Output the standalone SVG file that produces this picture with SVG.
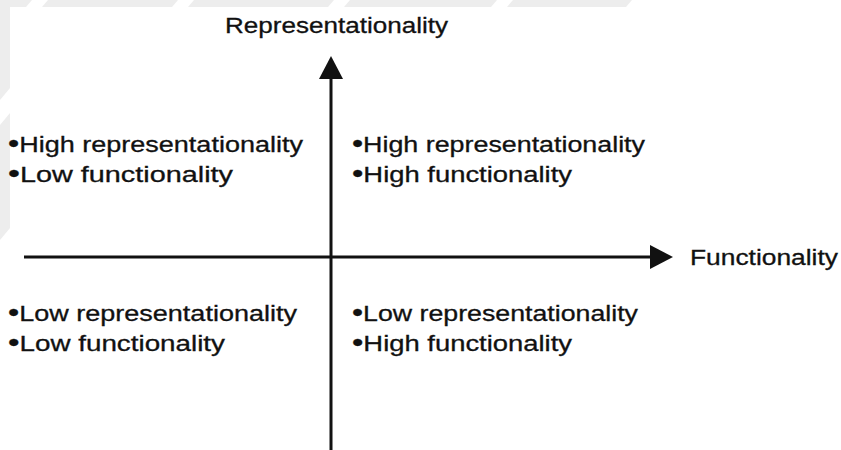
<svg xmlns="http://www.w3.org/2000/svg" width="841" height="450" viewBox="0 0 841 450">
  <style>
    .lbl { font-family: "Liberation Sans", Arial, Helvetica, sans-serif; font-size: 22px; fill: #111; stroke: #111; stroke-width: 0.3; }
    .dot { font-size: 26px; }
    .axis { stroke: #111; stroke-width: 3; fill: none; }
    .wm { fill: #ededed; }
  </style>
  <defs>
    <marker id="arrow" markerUnits="userSpaceOnUse" markerWidth="24" markerHeight="26" refX="0" refY="12" orient="auto">
      <path d="M0,0 L23,12 L0,24 z" fill="#111"/>
    </marker>
  </defs>

  <rect width="841" height="450" fill="#ffffff"/>

  <!-- faint background marks along the top and left edges -->
  <g id="background-marks">
    <polygon class="wm" points="0,0 32,0 26,7 0,7"/>
    <polygon class="wm" points="48,0 178,0 172,7 42,7"/>
    <polygon class="wm" points="194,0 334,0 328,7 188,7"/>
    <polygon class="wm" points="350,0 497,0 491,7 344,7"/>
    <polygon class="wm" points="513,0 632,0 626,7 507,7"/>
    <polygon class="wm" points="0,7 10,7 10,88 0,100"/>
    <polygon class="wm" points="0,125 10,113 10,228 0,240"/>
  </g>

  <!-- axes -->
  <g id="connectors">
    <line id="axis-representationality" class="axis" x1="331" y1="450" x2="331" y2="79" marker-end="url(#arrow)"/>
    <line id="axis-functionality" class="axis" x1="24" y1="257" x2="650" y2="257" marker-end="url(#arrow)"/>
  </g>

  <!-- axis labels -->
  <g id="label-representationality">
    <text class="lbl" x="225" y="33" textLength="223" lengthAdjust="spacingAndGlyphs">Representationality</text>
  </g>
  <g id="label-functionality">
    <text class="lbl" x="690" y="265" textLength="148" lengthAdjust="spacingAndGlyphs">Functionality</text>
  </g>

  <!-- quadrants -->
  <g id="quadrant-top-left">
    <text class="lbl" x="8" y="152" textLength="295" lengthAdjust="spacingAndGlyphs"><tspan class="dot">•</tspan>High representationality</text>
    <text class="lbl" x="8" y="182" textLength="225" lengthAdjust="spacingAndGlyphs"><tspan class="dot">•</tspan>Low functionality</text>
  </g>
  <g id="quadrant-top-right">
    <text class="lbl" x="352" y="152" textLength="293" lengthAdjust="spacingAndGlyphs"><tspan class="dot">•</tspan>High representationality</text>
    <text class="lbl" x="352" y="182" textLength="220" lengthAdjust="spacingAndGlyphs"><tspan class="dot">•</tspan>High functionality</text>
  </g>
  <g id="quadrant-bottom-left">
    <text class="lbl" x="8" y="321" textLength="289" lengthAdjust="spacingAndGlyphs"><tspan class="dot">•</tspan>Low representationality</text>
    <text class="lbl" x="8" y="351" textLength="217" lengthAdjust="spacingAndGlyphs"><tspan class="dot">•</tspan>Low functionality</text>
  </g>
  <g id="quadrant-bottom-right">
    <text class="lbl" x="352" y="321" textLength="286" lengthAdjust="spacingAndGlyphs"><tspan class="dot">•</tspan>Low representationality</text>
    <text class="lbl" x="352" y="351" textLength="220" lengthAdjust="spacingAndGlyphs"><tspan class="dot">•</tspan>High functionality</text>
  </g>
</svg>
